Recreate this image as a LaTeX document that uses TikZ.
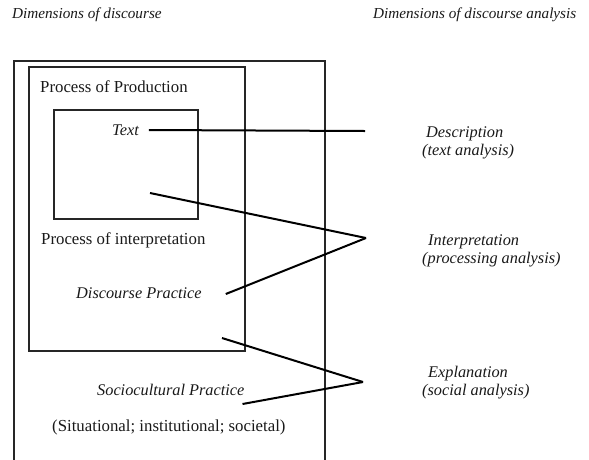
\documentclass[tikz,border=0pt]{standalone}
\usepackage{fontspec}
\setmainfont{Liberation Serif}
\begin{document}
\begin{tikzpicture}[x=1pt,y=-1pt,
  box/.style={draw=black!85,line width=1.5pt},
  conn/.style={draw=black,line width=2pt},
  up/.style={anchor=west,inner sep=0pt,font=\fontsize{16.8}{18}\selectfont,text=black!90},
  it/.style={anchor=west,inner sep=0pt,font=\fontsize{16.3}{18}\selectfont\itshape,text=black!90},
  head/.style={anchor=west,inner sep=0pt,font=\fontsize{15.2}{17}\selectfont\itshape,text=black!90}]
\useasboundingbox (0,0) rectangle (589,459);
% boxes
\draw[box] (14,470) -- (14,61) -- (325,61) -- (325,470);
\draw[box] (29,67) rectangle (245,351);
\draw[box] (54,110) rectangle (198,219);
% headings
\node[head] (h1) at (12,15) {Dimensions of discourse};
\node[head] (h2) at (373,15) {Dimensions of discourse analysis};
% left texts
\node[up] (prod) at (40,87) {Process of Production};
\node[it] (text) at (112,130) {Text};
\node[up] (interp) at (41,240) {Process of interpretation};
\node[it] (dp) at (76,293) {Discourse Practice};
\node[it] (sp) at (97,390) {Sociocultural Practice};
\node[up] (sit) at (52,427) {(Situational; institutional; societal)};
% right texts
\node[it] (desc) at (426,134) {Description};
\node[it] (desc2) at (422,152) {(text analysis)};
\node[it] (int) at (428,242) {Interpretation};
\node[it] (int2) at (422,260) {(processing analysis)};
\node[it] (expl) at (428,374) {Explanation};
\node[it] (expl2) at (422,392) {(social analysis)};
% coordinates
\coordinate (t1) at (365,131);
\coordinate (t2) at (366,238);
\coordinate (t3) at (363,382);
\coordinate (s1) at (150,193);
\coordinate (s2) at (222,338);
% connectors
\draw[conn] ([xshift=10pt]text.east) -- (t1);
\draw[conn] (s1) -- (t2);
\draw[conn] ([xshift=24pt,yshift=-1pt]dp.east) -- (t2);
\draw[conn] (s2) -- (t3);
\draw[conn] ([xshift=-2pt,yshift=-14pt]sp.east) -- (t3);
\end{tikzpicture}
\end{document}
